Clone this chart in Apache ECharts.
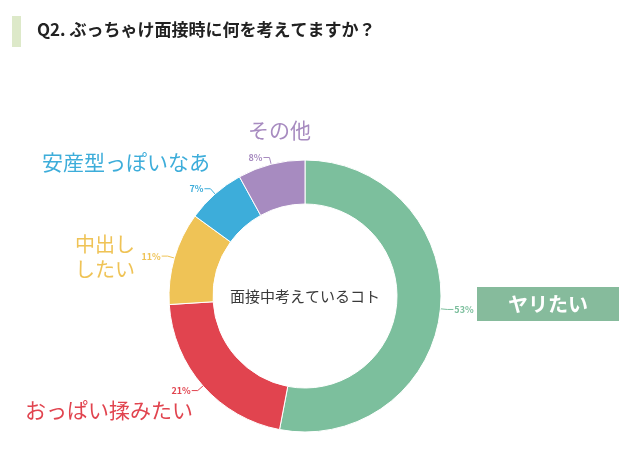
<!DOCTYPE html>
<html><head><meta charset="utf-8">
<script src="https://cdn.jsdelivr.net/npm/echarts@6/dist/echarts.min.js"></script>
<style>html,body{margin:0;padding:0;background:#fff}#c{width:640px;height:469px}</style>
</head><body><div id="c"></div>
<script>
const categories = ['ヤリたい', 'おっぱい揉みたい', '中出し\nしたい', '安産型っぽいなあ', 'その他'];
const values = [53, 21, 11, 7, 8];
const colors = ['#7cbf9d', '#e1444f', '#efc356', '#3dadda', '#a78bc0'];
const labelColors = ['#7cbf9d', '#e1444f', '#efc356', '#3dadda', '#a78bc0'];
const title = 'Q2. ぶっちゃけ面接時に何を考えてますか？';
const centerText = '面接中考えているコト';

const FONT = '"Noto Sans CJK JP", "Noto Sans", sans-serif';
const chart = echarts.init(document.getElementById('c'));

const nameLayout = [
  {x: 548, y: 304, align: 'center', size: 20, color: '#fff', weight: 'bold'},
  {x: 25, y: 410, align: 'left', size: 21, color: labelColors[1]},
  {x: 75, y: 257, align: 'left', size: 20, color: labelColors[2], lh: 25},
  {x: 42, y: 162, align: 'left', size: 21, color: labelColors[3]},
  {x: 248, y: 130, align: 'left', size: 21, color: labelColors[4]}
];

const graphics = [
  {type: 'rect', shape: {x: 12, y: 16, width: 9, height: 31}, style: {fill: '#dde9c9'}},
  {type: 'text', left: 37, top: 21, style: {text: title, font: 'bold 17px ' + FONT, fill: '#222'}},
  {type: 'rect', shape: {x: 477, y: 287, width: 142, height: 34}, style: {fill: '#86bb9c'}}
];
categories.forEach((c, i) => {
  const L = nameLayout[i];
  graphics.push({
    type: 'text', x: L.x, y: L.y,
    style: {text: c, font: (L.weight || 'normal') + ' ' + L.size + 'px ' + FONT, fill: L.color,
      textAlign: L.align, textVerticalAlign: 'middle', lineHeight: L.lh || L.size + 4}
  });
});

chart.setOption({
  animation: false,
  graphic: graphics,
  series: [{
    type: 'pie',
    center: [305, 296],
    radius: [92, 136],
    startAngle: 90,
    clockwise: true,
    avoidLabelOverlap: false,
    itemStyle: {borderColor: '#fff', borderWidth: 1},
    label: {
      show: true, position: 'outside', fontSize: 9, fontWeight: 'bold', fontFamily: FONT,
      formatter: p => p.value + '%', color: 'inherit', padding: [0, 0, 0, 0], distanceToLabelLine: 1
    },
    labelLine: {show: true, length: 7, length2: 6, lineStyle: {width: 1}},
    data: values.map((v, i) => ({value: v, name: categories[i],
      itemStyle: {color: colors[i]}, label: {color: labelColors[i]}, labelLine: {lineStyle: {color: labelColors[i]}}})),
  }, {
    type: 'pie', center: [305, 296], radius: [0, 0], silent: true,
    label: {show: true, position: 'center', formatter: centerText, fontSize: 15, color: '#3a3a3a', fontFamily: FONT},
    labelLine: {show: false},
    data: [{value: 1, name: 'c'}]
  }]
});
</script></body></html>
